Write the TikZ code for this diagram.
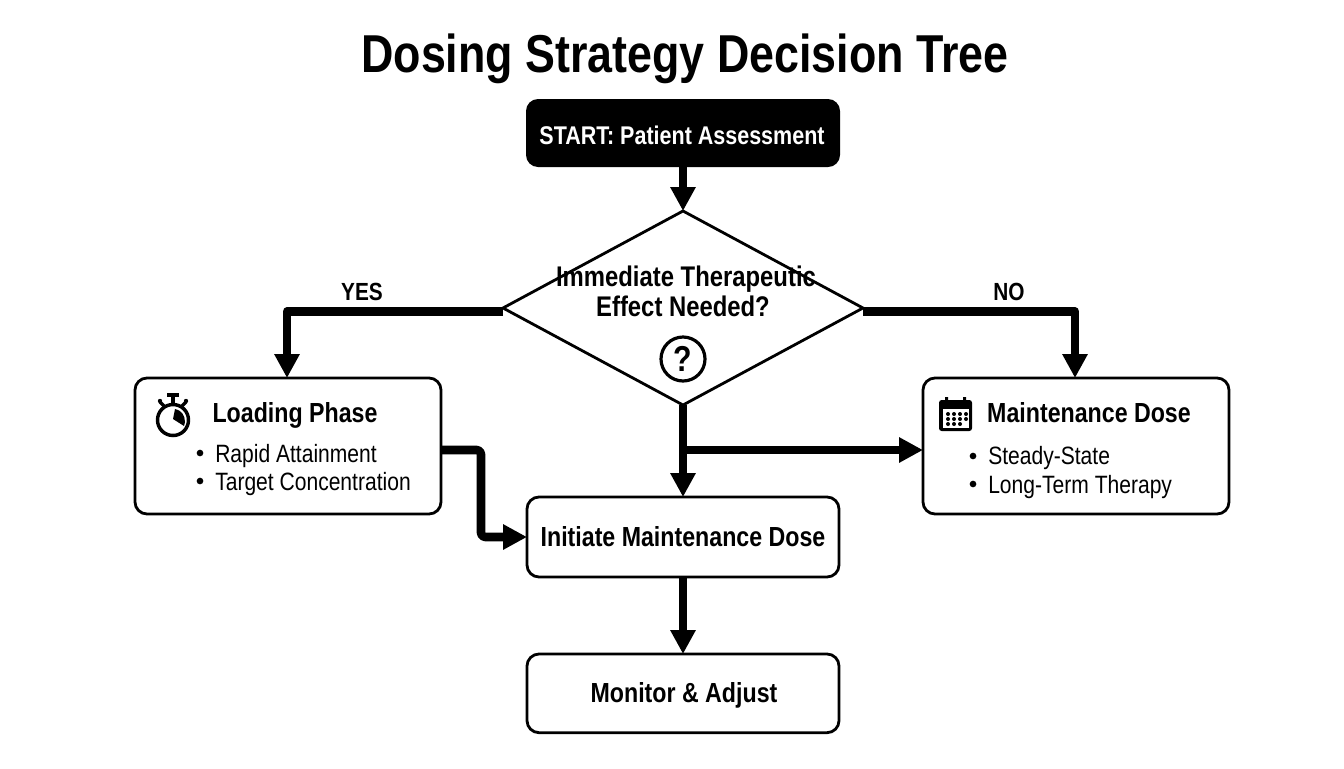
\documentclass[tikz,border=0pt]{standalone}
\usepackage{fontspec}
\usetikzlibrary{shapes.geometric,arrows.meta}
\setmainfont{Liberation Sans}[FakeStretch=0.84]
\tikzset{
 x=0.75pt,y=-0.75pt,
 flowbox/.style={draw=black,line width=2.1pt,rounded corners=9pt,fill=white,anchor=north west,inner sep=0pt,outer sep=0pt},
 startbox/.style={flowbox,fill=black,line width=0pt,draw=none},
 decision/.style={diamond,draw=black,line width=2.1pt,fill=white,inner sep=0pt,outer sep=0pt,minimum width=270pt,minimum height=145.5pt},
 conn/.style={line width=6.4pt,draw=black,line join=round},
 flow/.style={conn,-{Triangle[width=18pt,length=18pt]}},
 boxlabel/.style={font=\fontsize{20.7}{24}\selectfont\bfseries,inner sep=0pt,anchor=base},
 bodylabel/.style={font=\fontsize{18.8}{22}\selectfont,inner sep=0pt,anchor=base west},
 bulletdot/.style={circle,fill=black,inner sep=0pt,minimum size=5pt},
 branchlabel/.style={font=\fontsize{18.6}{22}\selectfont\bfseries,inner sep=0pt,anchor=base},
 iconline/.style={line width=2.6pt,draw=black},
}
\begin{document}
\begin{tikzpicture}
\useasboundingbox[fill=white] (0,0) rectangle (1344,768);
\node[font=\fontsize{40}{46}\selectfont\bfseries,inner sep=0pt,anchor=base] (title) at (685,72) {Dosing Strategy Decision Tree};

\node[startbox,minimum width=235.5pt,minimum height=51pt] (start) at (526,99) {};
\node[boxlabel,text=white,font=\fontsize{19.2}{24}\selectfont\bfseries] (starttext) at (682,144) {START: Patient Assessment};

\node[decision] (dec) at (683,308) {};
\node[boxlabel,font=\fontsize{21.3}{24}\selectfont\bfseries] (dectextone) at (686,286) {Immediate Therapeutic};
\node[boxlabel,font=\fontsize{21.3}{24}\selectfont\bfseries] (dectexttwo) at (683,316) {Effect Needed?};
\node[circle,draw=black,line width=2.4pt,minimum size=33pt,inner sep=0pt,font=\fontsize{27}{30}\selectfont\bfseries] (qmark) at (683,359) {?};

\node[flowbox,minimum width=229.5pt,minimum height=102pt] (load) at (135,378) {};
\node[flowbox,minimum width=229.5pt,minimum height=102pt] (maint) at (923,378) {};
\node[flowbox,minimum width=234pt,minimum height=60pt] (init) at (527,497) {};
\node[flowbox,minimum width=234pt,minimum height=59pt] (mon) at (527,654) {};
\node[boxlabel] (inittext) at (683,546) {Initiate Maintenance Dose};
\node[boxlabel] (montext) at (684,702) {Monitor \& Adjust};

\node[boxlabel] (loadhead) at (295,422) {Loading Phase};
\node[bulletdot] (lb1) at (200,453) {};
\node[bulletdot] (lb2) at (200,481) {};
\node[bodylabel] (lt1) at (215,462) {Rapid Attainment};
\node[bodylabel] (lt2) at (215,490) {Target Concentration};

\node[boxlabel] (mainthead) at (1089,422) {Maintenance Dose};
\node[bulletdot] (mb1) at (973,456) {};
\node[bulletdot] (mb2) at (973,484) {};
\node[bodylabel] (mt1) at (988,464) {Steady-State};
\node[bodylabel] (mt2) at (988,493) {Long-Term Therapy};

\node[branchlabel] (yes) at (362,300) {YES};
\node[branchlabel] (no) at (1009,300) {NO};

% stopwatch icon
\draw[iconline] (173,420) circle (15.5);
\fill (167,393) rectangle (179,397);
\draw[line width=2.6pt] (173,396) -- (173,404);
\draw[line width=2.6pt] (160,402) -- (164,406) (186,402) -- (182,406);
\fill (160,401) circle (2.2) (186,401) circle (2.2);
\fill (173,419) -- (175,409) .. controls (181,410) and (185,415) .. (185,422) -- (184,426) -- cycle;

% calendar icon
\fill[rounded corners=2pt] (939,400) rectangle (972,431);
\fill[white] (943,409) rectangle (969,428);
\fill (945,397) rectangle (948,403) (963,397) rectangle (966,403);
\foreach \ix in {948,954,960,966}{\fill (\ix,414) circle (2) (\ix,419) circle (2);}
\foreach \ix in {948,954,960}{\fill (\ix,424) circle (2);}

\coordinate (yesbend) at (287,311.5);
\coordinate (nobend) at (1075,311.5);
\coordinate (branch) at (683,450);
\coordinate (elbow) at (481,450);

\draw[flow] (start.south) -- (dec.north);
\draw[flow] (yesbend -| dec.west) -- (yesbend) -- (yesbend |- load.north);
\draw[flow] (nobend -| dec.east) -- (nobend) -- (nobend |- maint.north);
\draw[flow] (dec.south) -- (init.north);
\draw[flow] (branch) -- (branch -| maint.west);
\draw[flow,rounded corners=3pt] (elbow -| load.east) -- (elbow) -- (elbow |- init.west) -- (init.west);
\draw[flow] (init.south) -- (mon.north);
\end{tikzpicture}
\end{document}
